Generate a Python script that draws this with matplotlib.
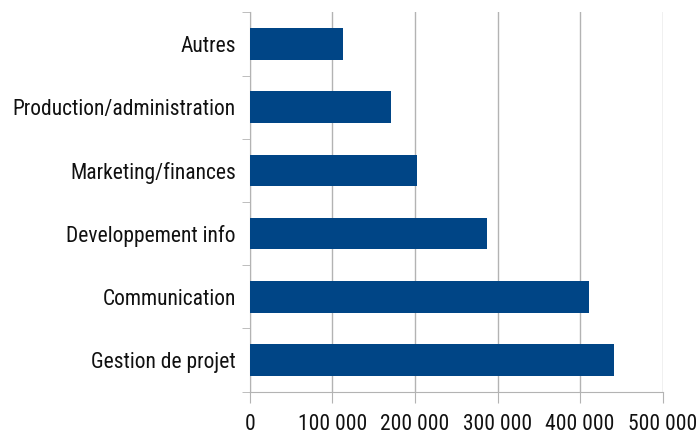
import matplotlib
matplotlib.use("Agg")
import matplotlib.pyplot as plt
from matplotlib.ticker import FuncFormatter

categories = ["Gestion de projet", "Communication", "Developpement info",
              "Marketing/finances", "Production/administration", "Autres"]
values = [441000, 411000, 287000, 202500, 171000, 113000]
xticks = [0, 100000, 200000, 300000, 400000, 500000]

plt.rcParams["font.family"] = ["Roboto Condensed", "DejaVu Sans"]

fig = plt.figure(figsize=(6.99, 4.37), dpi=100)
ax = fig.add_axes([249.7/699, 1 - 391.7/437, (662.7-249.7)/699, (391.7-12.3)/437])

y = list(range(len(categories)))
ax.barh(y, values, height=0.5, color="#004586", zorder=3)
ax.set_ylim(-0.5, len(categories) - 0.5)
ax.set_xlim(0, 500000)
ax.set_xticks(xticks)
ax.xaxis.set_major_formatter(FuncFormatter(lambda v, p: f"{int(v):,}".replace(",", " ")))
ax.set_yticks(y)
ax.set_yticklabels(categories)
ax.set_yticks([i - 0.5 for i in range(len(categories) + 1)], minor=True)

ax.grid(axis="x", color="#b3b3b3", linewidth=1, zorder=0)
for s in ["top", "right"]:
    ax.spines[s].set_visible(False)
for s in ["left", "bottom"]:
    ax.spines[s].set_color("#b3b3b3")
ax.tick_params(axis="y", which="major", length=0, pad=10, labelsize=15.5, labelcolor="#111111")
ax.tick_params(axis="y", which="minor", length=6, color="#b3b3b3")
ax.tick_params(axis="x", length=8, color="#b3b3b3", labelsize=15.5, pad=8, labelcolor="#111111")

fig.savefig("out.png", dpi=100)
